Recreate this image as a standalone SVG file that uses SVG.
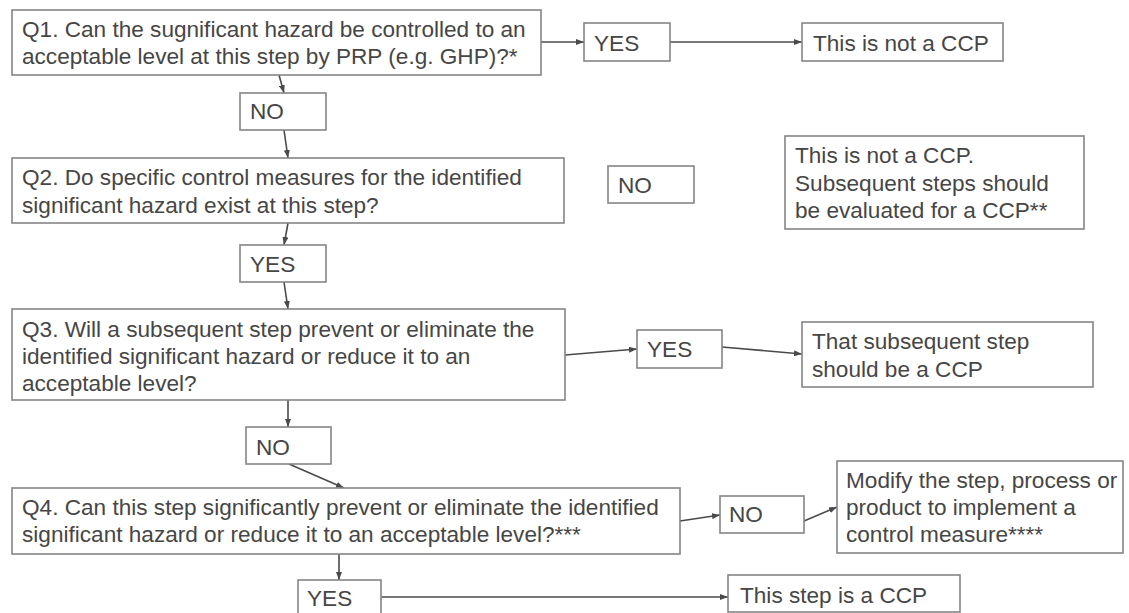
<svg xmlns="http://www.w3.org/2000/svg" width="1129" height="613" viewBox="0 0 1129 613">
<defs>
<style>
.box{fill:#fff;stroke:#858585;stroke-width:1.6}
.t{font-family:"Liberation Sans",Arial,sans-serif;font-size:22.6px;fill:#464646}
.c{fill:none;stroke:#4a4a4a;stroke-width:1.6}
</style>
<marker id="ah" viewBox="0 0 8 6" refX="8" refY="3" markerWidth="8" markerHeight="6" markerUnits="userSpaceOnUse" orient="auto">
<path d="M0,0 L8,3 L0,6 z" fill="#4a4a4a"/>
</marker>
</defs>
<rect width="1129" height="613" fill="#fff"/>
<g id="connectors">
<line class="c" x1="541" y1="42" x2="584" y2="42" marker-end="url(#ah)"/>
<line class="c" x1="670" y1="42" x2="802" y2="42" marker-end="url(#ah)"/>
<line class="c" x1="279" y1="75" x2="284" y2="93" marker-end="url(#ah)"/>
<line class="c" x1="284" y1="130" x2="288" y2="158" marker-end="url(#ah)"/>
<line class="c" x1="288" y1="223" x2="284" y2="245" marker-end="url(#ah)"/>
<line class="c" x1="284" y1="282" x2="288" y2="309" marker-end="url(#ah)"/>
<line class="c" x1="565" y1="355" x2="637" y2="349" marker-end="url(#ah)"/>
<line class="c" x1="722" y1="347" x2="802" y2="354" marker-end="url(#ah)"/>
<line class="c" x1="288" y1="400" x2="288" y2="427" marker-end="url(#ah)"/>
<line class="c" x1="289" y1="464" x2="344" y2="488" marker-end="url(#ah)"/>
<line class="c" x1="680" y1="521" x2="720" y2="515" marker-end="url(#ah)"/>
<line class="c" x1="804" y1="521" x2="837" y2="507" marker-end="url(#ah)"/>
<line class="c" x1="339" y1="554" x2="339" y2="580" marker-end="url(#ah)"/>
<line class="c" x1="381" y1="597" x2="728" y2="597" marker-end="url(#ah)"/>
</g>
<g id="q1"><rect class="box" x="12" y="10" width="529" height="65"/>
<text class="t" x="22" y="37">Q1. Can the sugnificant hazard be controlled to an</text>
<text class="t" x="22" y="64">acceptable level at this step by PRP (e.g. GHP)?*</text></g>
<g id="q1-yes"><rect class="box" x="584" y="23" width="86" height="38"/><text class="t" x="594" y="51">YES</text></g>
<g id="not-ccp-1"><rect class="box" x="802" y="23" width="201" height="38"/><text class="t" x="813" y="51">This is not a CCP</text></g>
<g id="q1-no"><rect class="box" x="240" y="93" width="86" height="37"/><text class="t" x="250" y="119">NO</text></g>
<g id="q2"><rect class="box" x="12" y="158" width="552" height="65"/>
<text class="t" x="22" y="185">Q2. Do specific control measures for the identified</text>
<text class="t" x="22" y="213">significant hazard exist at this step?</text></g>
<g id="q2-no"><rect class="box" x="608" y="166" width="86" height="37"/><text class="t" x="618" y="193">NO</text></g>
<g id="not-ccp-2"><rect class="box" x="785" y="136" width="299" height="93"/>
<text class="t" x="795" y="163">This is not a CCP.</text>
<text class="t" x="795" y="191">Subsequent steps should</text>
<text class="t" x="795" y="218">be evaluated for a CCP**</text></g>
<g id="q2-yes"><rect class="box" x="240" y="245" width="86" height="37"/><text class="t" x="250" y="272">YES</text></g>
<g id="q3"><rect class="box" x="12" y="309" width="553" height="91"/>
<text class="t" x="22" y="337">Q3. Will a subsequent step prevent or eliminate the</text>
<text class="t" x="22" y="364">identified significant hazard or reduce it to an</text>
<text class="t" x="22" y="391">acceptable level?</text></g>
<g id="q3-yes"><rect class="box" x="637" y="330" width="85" height="38"/><text class="t" x="647" y="357">YES</text></g>
<g id="subsequent-ccp"><rect class="box" x="802" y="322" width="291" height="65"/>
<text class="t" x="812" y="349">That subsequent step</text>
<text class="t" x="812" y="377">should be a CCP</text></g>
<g id="q3-no"><rect class="box" x="246" y="427" width="85" height="37"/><text class="t" x="256" y="455">NO</text></g>
<g id="q4"><rect class="box" x="12" y="488" width="668" height="66"/>
<text class="t" x="22" y="515">Q4. Can this step significantly prevent or eliminate the identified</text>
<text class="t" x="22" y="542">significant hazard or reduce it to an acceptable level?***</text></g>
<g id="q4-no"><rect class="box" x="720" y="496" width="84" height="37"/><text class="t" x="729" y="522">NO</text></g>
<g id="modify"><rect class="box" x="837" y="461" width="286" height="92"/>
<text class="t" x="846" y="488">Modify the step, process or</text>
<text class="t" x="846" y="515">product to implement a</text>
<text class="t" x="846" y="542">control measure****</text></g>
<g id="q4-yes"><rect class="box" x="298" y="580" width="83" height="38"/><text class="t" x="307" y="606">YES</text></g>
<g id="is-ccp"><rect class="box" x="728" y="575" width="232" height="37"/><text class="t" x="740" y="603">This step is a CCP</text></g>
</svg>
